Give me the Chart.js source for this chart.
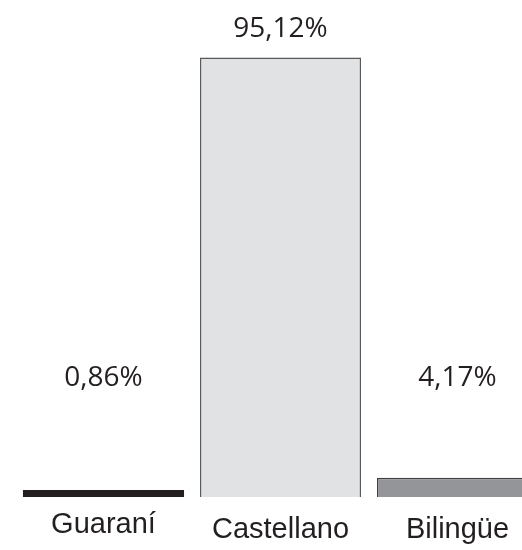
<!DOCTYPE html>
<html>
<head>
<meta charset="utf-8">
<script src="https://cdn.jsdelivr.net/npm/chart.js@4.4.1/dist/chart.umd.min.js"></script>
<style>
  html, body { margin: 0; padding: 0; background: #fff; overflow: hidden; }
  #wrap { width: 560px; height: 550px; }
</style>
</head>
<body>
<div id="wrap"><canvas id="c" width="560" height="550"></canvas></div>
<script>
// datos
const categorias = ['Guaraní', 'Castellano', 'Bilingüe'];
const porcentajes = [0.86, 95.12, 4.17];
const etiquetas = ['0,86%', '95,12%', '4,17%'];

const rellenos = ['#231f20', '#e1e2e4', '#939598'];
const bordes = ['#231f20', '#58595b', '#414042'];
const grosores = [0, 1.5, 1.5];
const desplazCat = [-5, 0, 0]; // Guaraní un poco más arriba

const LABEL_MIN = 24; // las etiquetas pequeñas quedan a esta altura

const textos = {
    id: 'textos',
    afterDatasetsDraw(chart) {
        const ctx = chart.ctx;
        const meta = chart.getDatasetMeta(0);
        const y = chart.scales.y;
        const pisoEtiqueta = y.getPixelForValue(LABEL_MIN);
        ctx.save();
        ctx.fillStyle = '#231f20';
        ctx.textAlign = 'center';
        ctx.textBaseline = 'alphabetic';
        meta.data.forEach((bar, i) => {
            ctx.font = '28px "Open Sans"';
            const ly = Math.min(bar.y - 21, pisoEtiqueta);
            ctx.fillText(etiquetas[i], bar.x, ly);
            ctx.font = '29px "Liberation Sans", Arial';
            ctx.fillText(categorias[i], bar.x, chart.chartArea.bottom + 41 + desplazCat[i]);
        });
        ctx.restore();
    }
};

new Chart(document.getElementById('c'), {
    type: 'bar',
    data: {
        labels: categorias,
        datasets: [{
            data: porcentajes,
            backgroundColor: rellenos,
            borderColor: bordes,
            borderWidth: grosores,
            minBarLength: 7,
            barPercentage: 0.91,
            categoryPercentage: 1
        }]
    },
    options: {
        responsive: false,
        animation: false,
        layout: { padding: { left: 15, right: 14, top: 35, bottom: 53 } },
        plugins: { legend: { display: false }, tooltip: { enabled: false } },
        scales: {
            x: { display: false, offset: true },
            y: { display: false, min: 0, max: 100 }
        }
    },
    plugins: [textos]
});
</script>
</body>
</html>
